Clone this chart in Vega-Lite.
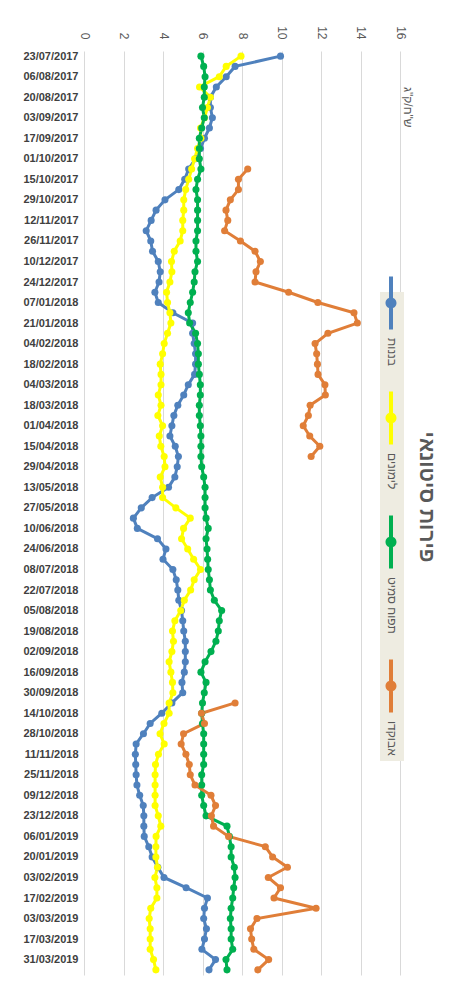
{
  "$schema": "https://vega.github.io/schema/vega-lite/v6.json",
  "width": 316,
  "height": 924,
  "autosize": {"type": "none"},
  "padding": {"left": 84, "top": 51, "right": 59, "bottom": 18},
  "background": "white",
  "config": {"view": {"stroke": null}, "font": "Liberation Sans"},
  "title": {"text": "פירות סיטונאי", "orient": "right", "anchor": "middle", "angle": 90, "fontSize": 21, "fontWeight": "bold", "color": "#595959", "font": "Liberation Sans", "offset": 2, "dx": -16},
  "data": {"values": [
    {"date": "23/07/2017", "בננות": 9.95, "לימונים": 7.95, "תפוח סמיט": 5.92, "אבוקדו": null},
    {"date": "30/07/2017", "בננות": 7.65, "לימונים": 7.2, "תפוח סמיט": 6.06, "אבוקדו": null},
    {"date": "06/08/2017", "בננות": 7.2, "לימונים": 6.85, "תפוח סמיט": 6.13, "אבוקדו": null},
    {"date": "13/08/2017", "בננות": 6.7, "לימונים": 5.85, "תפוח סמיט": 6.09, "אבוקדו": null},
    {"date": "20/08/2017", "בננות": 6.4, "לימונים": 6.4, "תפוח סמיט": 6.09, "אבוקדו": null},
    {"date": "27/08/2017", "בננות": 6.4, "לימונים": 6.25, "תפוח סמיט": 6.0, "אבוקדו": null},
    {"date": "03/09/2017", "בננות": 6.5, "לימונים": 6.1, "תפוח סמיט": 6.09, "אבוקדו": null},
    {"date": "10/09/2017", "בננות": 6.35, "לימונים": 5.9, "תפוח סמיט": 5.96, "אבוקדו": null},
    {"date": "17/09/2017", "בננות": 6.1, "לימונים": 5.92, "תפוח סמיט": 5.84, "אבוקדו": null},
    {"date": "24/09/2017", "בננות": 5.9, "לימונים": 5.75, "תפוח סמיט": 5.84, "אבוקדו": null},
    {"date": "01/10/2017", "בננות": 5.65, "לימונים": 5.6, "תפוח סמיט": 5.84, "אבוקדו": null},
    {"date": "08/10/2017", "בננות": 5.3, "לימונים": 5.45, "תפוח סמיט": 5.92, "אבוקדו": 8.29},
    {"date": "15/10/2017", "בננות": 5.1, "לימונים": 5.3, "תפוח סמיט": 5.75, "אבוקדו": 7.82},
    {"date": "22/10/2017", "בננות": 4.8, "לימונים": 5.15, "תפוח סמיט": 5.67, "אבוקדו": 7.82},
    {"date": "29/10/2017", "בננות": 4.1, "לימונים": 5.05, "תפוח סמיט": 5.75, "אבוקדו": 7.41},
    {"date": "05/11/2017", "בננות": 3.65, "לימונים": 5.05, "תפוח סמיט": 5.75, "אבוקדו": 7.19},
    {"date": "12/11/2017", "בננות": 3.4, "לימונים": 5.0, "תפוח סמיט": 5.75, "אבוקדו": 7.28},
    {"date": "19/11/2017", "בננות": 3.15, "לימונים": 5.0, "תפוח סמיט": 5.75, "אבוקדו": 7.12},
    {"date": "26/11/2017", "בננות": 3.38, "לימונים": 4.87, "תפוח סמיט": 5.67, "אבוקדו": 7.92},
    {"date": "03/12/2017", "בננות": 3.47, "לימונים": 4.57, "תפוח סמיט": 5.67, "אבוקדו": 8.66},
    {"date": "10/12/2017", "בננות": 3.76, "לימונים": 4.43, "תפוח סמיט": 5.75, "אבוקדו": 8.93},
    {"date": "17/12/2017", "בננות": 3.86, "לימונים": 4.45, "תפוח סמיט": 5.62, "אבוקדו": 8.71},
    {"date": "24/12/2017", "בננות": 3.8, "לימונים": 4.35, "תפוח סמיט": 5.58, "אבוקדו": 8.66},
    {"date": "31/12/2017", "בננות": 3.59, "לימונים": 4.18, "תפוח סמיט": 5.5, "אבוקדו": 10.36},
    {"date": "07/01/2018", "בננות": 3.76, "לימונים": 4.23, "תפוח סמיט": 5.38, "אבוקדו": 11.84},
    {"date": "14/01/2018", "בננות": 4.5, "לימונים": 4.35, "תפוח סמיט": 5.28, "אבוקדו": 13.67},
    {"date": "21/01/2018", "בננות": 5.5, "לימונים": 4.4, "תפוח סמיט": 5.35, "אבוקדו": 13.84},
    {"date": "28/01/2018", "בננות": 5.5, "לימונים": 4.23, "תפוח סמיט": 5.65, "אבוקדו": 12.35},
    {"date": "04/02/2018", "בננות": 5.58, "לימונים": 4.06, "תפוח סמיט": 5.75, "אבוקדו": 11.7},
    {"date": "11/02/2018", "בננות": 5.65, "לימונים": 3.98, "תפוח סמיט": 5.79, "אבוקדו": 11.78},
    {"date": "18/02/2018", "בננות": 5.65, "לימונים": 3.86, "תפוח סמיט": 5.79, "אבוקדו": 11.82},
    {"date": "25/02/2018", "בננות": 5.6, "לימונים": 3.9, "תפוח סמיט": 5.84, "אבוקדו": 11.85},
    {"date": "04/03/2018", "בננות": 5.28, "לימונים": 3.9, "תפוח סמיט": 5.89, "אבוקדו": 12.2},
    {"date": "11/03/2018", "בננות": 5.05, "לימונים": 3.76, "תפוח סמיט": 5.89, "אבוקדו": 12.22},
    {"date": "18/03/2018", "בננות": 4.75, "לימונים": 3.9, "תפוח סמיט": 5.84, "אבוקדו": 11.45},
    {"date": "25/03/2018", "בננות": 4.55, "לימונים": 3.74, "תפוח סמיט": 5.84, "אבוקדו": 11.36},
    {"date": "01/04/2018", "בננות": 4.45, "לימונים": 3.98, "תפוח סמיט": 5.89, "אבוקדו": 11.1},
    {"date": "08/04/2018", "בננות": 4.35, "לימונים": 3.81, "תפוח סמיט": 5.92, "אבוקדו": 11.43},
    {"date": "15/04/2018", "בננות": 4.62, "לימונים": 3.89, "תפוח סמיט": 5.92, "אבוקדו": 11.94},
    {"date": "22/04/2018", "בננות": 4.78, "לימונים": 4.06, "תפוח סמיט": 5.92, "אבוקדו": 11.5},
    {"date": "29/04/2018", "בננות": 4.72, "לימונים": 4.1, "תפוח סמיט": 5.96, "אבוקדו": null},
    {"date": "06/05/2018", "בננות": 4.6, "לימונים": 3.86, "תפוח סמיט": 6.06, "אבוקדו": null},
    {"date": "13/05/2018", "בננות": 4.28, "לימונים": 3.98, "תפוח סמיט": 6.13, "אבוקדו": null},
    {"date": "20/05/2018", "בננות": 3.45, "לימונים": 3.98, "תפוח סמיט": 6.13, "אבוקדו": null},
    {"date": "27/05/2018", "בננות": 2.9, "לימונים": 4.65, "תפוח סמיט": 6.13, "אבוקדו": null},
    {"date": "03/06/2018", "בננות": 2.5, "לימונים": 5.38, "תפוח סמיט": 6.18, "אבוקדו": null},
    {"date": "10/06/2018", "בננות": 2.7, "לימונים": 5.04, "תפוח סמיט": 6.29, "אבוקדו": null},
    {"date": "17/06/2018", "בננות": 3.72, "לימונים": 4.94, "תפוח סמיט": 6.18, "אבוקדו": null},
    {"date": "24/06/2018", "בננות": 4.15, "לימונים": 5.25, "תפוח סמיט": 6.23, "אבוקדו": null},
    {"date": "01/07/2018", "בננות": 4.0, "לימונים": 5.55, "תפוח סמיט": 6.26, "אבוקדו": null},
    {"date": "08/07/2018", "בננות": 4.5, "לימונים": 5.9, "תפוח סמיט": 6.29, "אבוקדו": null},
    {"date": "15/07/2018", "בננות": 4.67, "לימונים": 5.58, "תפוח סמיט": 6.35, "אבוקדו": null},
    {"date": "22/07/2018", "בננות": 4.75, "לימונים": 5.4, "תפוח סמיט": 6.4, "אבוקדו": null},
    {"date": "29/07/2018", "בננות": 4.8, "לימונים": 5.08, "תפוח סמיט": 6.6, "אבוקדו": null},
    {"date": "05/08/2018", "בננות": 4.94, "לימונים": 4.9, "תפוח סמיט": 6.97, "אבוקדו": null},
    {"date": "12/08/2018", "בננות": 5.0, "לימונים": 4.6, "תפוח סמיט": 6.85, "אבוקדו": null},
    {"date": "19/08/2018", "בננות": 5.05, "לימונים": 4.48, "תפוח סמיט": 6.8, "אבוקדו": null},
    {"date": "26/08/2018", "בננות": 5.13, "לימונים": 4.53, "תפוח סמיט": 6.68, "אבוקדו": null},
    {"date": "02/09/2018", "בננות": 5.13, "לימונים": 4.45, "תפוח סמיט": 6.43, "אבוקדו": null},
    {"date": "09/09/2018", "בננות": 5.13, "לימונים": 4.31, "תפוח סמיט": 6.13, "אבוקדו": null},
    {"date": "16/09/2018", "בננות": 5.08, "לימונים": 4.4, "תפוח סמיט": 5.92, "אבוקדו": null},
    {"date": "23/09/2018", "בננות": 4.96, "לימונים": 4.48, "תפוח סמיט": 6.18, "אבוקדו": null},
    {"date": "30/09/2018", "בננות": 5.0, "לימונים": 4.5, "תפוח סמיט": 6.09, "אבוקדו": null},
    {"date": "07/10/2018", "בננות": 4.45, "לימונים": 4.31, "תפוח סמיט": 6.0, "אבוקדו": 7.65},
    {"date": "14/10/2018", "בננות": 3.94, "לימונים": 4.31, "תפוח סמיט": 5.96, "אבוקדו": 5.95},
    {"date": "21/10/2018", "בננות": 3.35, "לימונים": 4.05, "תפוח סמיט": 6.0, "אבוקדו": 6.1},
    {"date": "28/10/2018", "בננות": 3.01, "לימונים": 3.85, "תפוח סמיט": 6.06, "אבוקדו": 5.04},
    {"date": "04/11/2018", "בננות": 2.64, "לימונים": 4.06, "תפוח סמיט": 6.06, "אבוקדו": 4.92},
    {"date": "11/11/2018", "בננות": 2.6, "לימונים": 3.77, "תפוח סמיט": 6.06, "אבוקדו": 5.16},
    {"date": "18/11/2018", "בננות": 2.62, "לימונים": 3.62, "תפוח סמיט": 6.06, "אבוקדו": 5.33},
    {"date": "25/11/2018", "בננות": 2.64, "לימונים": 3.6, "תפוח סמיט": 5.96, "אבוקדו": 5.38},
    {"date": "02/12/2018", "בננות": 2.68, "לימונים": 3.6, "תפוח סמיט": 5.96, "אבוקדו": 5.62},
    {"date": "09/12/2018", "בננות": 2.82, "לימונים": 3.6, "תפוח סמיט": 5.96, "אבוקדו": 6.43},
    {"date": "16/12/2018", "בננות": 3.0, "לימונים": 3.6, "תפוח סמיט": 6.06, "אבוקדו": 6.66},
    {"date": "23/12/2018", "בננות": 3.03, "לימונים": 3.76, "תפוח סמיט": 6.18, "אבוקדו": 6.45},
    {"date": "30/12/2018", "בננות": 3.03, "לימונים": 3.89, "תפוח סמיט": 7.24, "אבוקדו": 6.56},
    {"date": "06/01/2019", "בננות": 3.05, "לימונים": 3.65, "תפוח סמיט": 7.36, "אבוקדו": 7.32},
    {"date": "13/01/2019", "בננות": 3.28, "לימונים": 3.64, "תפוח סמיט": 7.45, "אבוקדו": 9.18},
    {"date": "20/01/2019", "בננות": 3.45, "לימונים": 3.64, "תפוח סמיט": 7.45, "אבוקדו": 9.55},
    {"date": "27/01/2019", "בננות": 3.74, "לימונים": 3.72, "תפוח סמיט": 7.61, "אבוקדו": 10.3},
    {"date": "03/02/2019", "בננות": 4.05, "לימונים": 3.59, "תפוח סמיט": 7.65, "אבוקדו": 9.33},
    {"date": "10/02/2019", "בננות": 5.17, "לימונים": 3.69, "תפוח סמיט": 7.58, "אבוקדו": 9.95},
    {"date": "17/02/2019", "בננות": 6.25, "לימונים": 3.69, "תפוח סמיט": 7.53, "אבוקדו": 9.62},
    {"date": "24/02/2019", "בננות": 6.1, "לימונים": 3.38, "תפוח סמיט": 7.45, "אבוקדו": 11.75},
    {"date": "03/03/2019", "בננות": 6.06, "לימונים": 3.3, "תפוח סמיט": 7.41, "אבוקדו": 8.76},
    {"date": "10/03/2019", "בננות": 6.2, "לימונים": 3.35, "תפוח סמיט": 7.45, "אבוקדו": 8.43},
    {"date": "17/03/2019", "בננות": 6.1, "לימונים": 3.35, "תפוח סמיט": 7.45, "אבוקדו": 8.49},
    {"date": "24/03/2019", "בננות": 5.97, "לימונים": 3.35, "תפוח סמיט": 7.53, "אבוקדו": 8.6},
    {"date": "31/03/2019", "בננות": 6.66, "לימונים": 3.52, "תפוח סמיט": 7.19, "אבוקדו": 9.35},
    {"date": "07/04/2019", "בננות": 6.33, "לימונים": 3.64, "תפוח סמיט": 7.24, "אבוקדו": 8.8}
  ]},
  "transform": [
    {"fold": ["בננות", "לימונים", "תפוח סמיט", "אבוקדו"], "as": ["series", "value"]}
  ],
  "encoding": {
    "y": {
      "field": "date", "type": "ordinal", "sort": null,
      "scale": {"type": "point", "padding": 0.5},
      "axis": {
        "values": ["23/07/2017", "06/08/2017", "20/08/2017", "03/09/2017", "17/09/2017", "01/10/2017", "15/10/2017", "29/10/2017", "12/11/2017", "26/11/2017", "10/12/2017", "24/12/2017", "07/01/2018", "21/01/2018", "04/02/2018", "18/02/2018", "04/03/2018", "18/03/2018", "01/04/2018", "15/04/2018", "29/04/2018", "13/05/2018", "27/05/2018", "10/06/2018", "24/06/2018", "08/07/2018", "22/07/2018", "05/08/2018", "19/08/2018", "02/09/2018", "16/09/2018", "30/09/2018", "14/10/2018", "28/10/2018", "11/11/2018", "25/11/2018", "09/12/2018", "23/12/2018", "06/01/2019", "20/01/2019", "03/02/2019", "17/02/2019", "03/03/2019", "17/03/2019", "31/03/2019"],
        "title": null, "ticks": false, "domain": false, "grid": false,
        "labelFont": "Liberation Sans", "labelFontSize": 11, "labelFontWeight": "bold",
        "labelColor": "#404040", "labelPadding": 6, "labelOverlap": false
      }
    },
    "x": {
      "field": "value", "type": "quantitative",
      "scale": {"domain": [0, 16], "nice": false, "zero": true},
      "axis": {
        "orient": "top", "values": [0, 2, 4, 6, 8, 10, 12, 14, 16], "title": null,
        "labelAngle": 90, "labelFont": "Liberation Sans", "labelFontSize": 12,
        "labelColor": "#595959", "labelPadding": 12, "ticks": false, "domain": false,
        "grid": true, "gridColor": "#D9D9D9", "gridWidth": 1
      }
    },
    "color": {
      "field": "series", "type": "nominal",
      "scale": {"domain": ["בננות", "לימונים", "תפוח סמיט", "אבוקדו"], "range": ["#4F81BD", "#FFFF00", "#00B050", "#E07E38"]},
      "legend": {
        "orient": "none", "legendX": 296, "legendY": 241, "direction": "vertical", "title": null,
        "symbolType": "M-0.4,-5.3H0.4V5.3H-0.4Z M-1.1,0A1.1,1.1,0,1,1,1.1,0A1.1,1.1,0,1,1,-1.1,0Z",
        "symbolSize": 100, "symbolStrokeWidth": 0, "symbolOpacity": 1,
        "labelFont": "Liberation Sans", "labelFontSize": 12, "labelColor": "#595959",
        "labelOffset": -5, "fillColor": "#EEECE1", "padding": 5, "rowPadding": 25,
        "encoding": {
          "symbols": {"fill": {"scale": "color", "field": "value"}},
          "labels": {"angle": {"value": 90}, "dx": {"value": 35}, "align": {"value": "left"}, "baseline": {"value": "middle"}}
        }
      }
    }
  },
  "layer": [
    {
      "mark": {"type": "line", "strokeWidth": 3, "invalid": "break-paths-show-domains"}
    },
    {
      "transform": [{"filter": "isValid(datum.value)"}],
      "mark": {"type": "point", "filled": true, "size": 50, "opacity": 1}
    },
    {
      "transform": [{"filter": "datum.date === '13/08/2017' && datum.series === 'בננות'"}],
      "mark": {"type": "text", "text": "ש\"ח/ק\"ג", "angle": 90, "align": "left", "baseline": "middle", "font": "Liberation Sans", "fontSize": 12},
      "encoding": {"x": {"datum": 16.4}, "color": {"value": "#595959"}}
    }
  ]
}
